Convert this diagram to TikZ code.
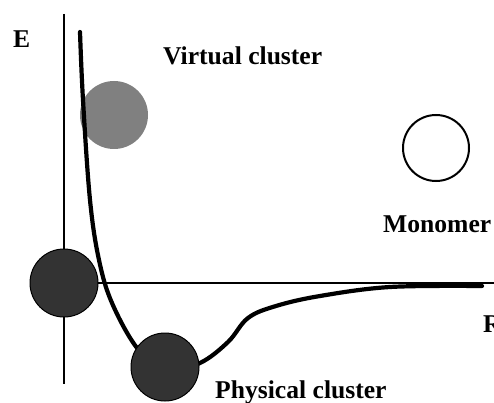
\documentclass[tikz,border=0pt]{standalone}
\usepackage{fontspec}
\setmainfont{Liberation Serif}
\begin{document}
\begin{tikzpicture}[x=1pt,y=-1pt,
  axis/.style={line width=2pt},
  curve/.style={line width=4.2pt,line cap=round,line join=round},
  ball/.style={circle,minimum size=68pt,inner sep=0pt},
  darkball/.style={ball,fill=ballgray,draw=black,line width=1pt},
  label/.style={font=\fontsize{25.6}{30}\selectfont\bfseries,inner sep=0pt,anchor=base west}]
\definecolor{ballgray}{HTML}{333333}
\definecolor{virtgray}{HTML}{808080}
\useasboundingbox (0,0) rectangle (494,403);

% axes
\coordinate (ytop) at (64,14);
\coordinate (ybot) at (64,384);
\coordinate (xleft) at (64,283);
\coordinate (xright) at (496,283);
\draw[axis] (ytop) -- (ybot);
\draw[axis] (xleft) -- (xright);

% virtual cluster sits under the potential curve
\node[ball,fill=virtgray] (virtual) at (114,115) {};

% potential energy curve
\draw[curve] plot[smooth,tension=0.6] coordinates {
  (80,32) (83,100) (90,200) (99,260) (112,303) (137,348) (165,372)
  (200,363) (228,342) (248,318) (276,306) (320,296) (390,287) (482,286)};

% clusters and monomer
\node[darkball] (bound) at (64,283) {};
\node[darkball] (physical) at (165,367) {};
\node[ball,draw=black,line width=2pt,minimum size=66pt] (monomer) at (436,148) {};

% labels
\node[label] (E) at (13,48) {E};
\node[label] (vlab) at (163,65) {Virtual cluster};
\node[label] (mlab) at (383,232) {Monomer};
\node[label] (R) at (483,332) {R};
\node[label] (plab) at (215,398) {Physical cluster};
\end{tikzpicture}
\end{document}
